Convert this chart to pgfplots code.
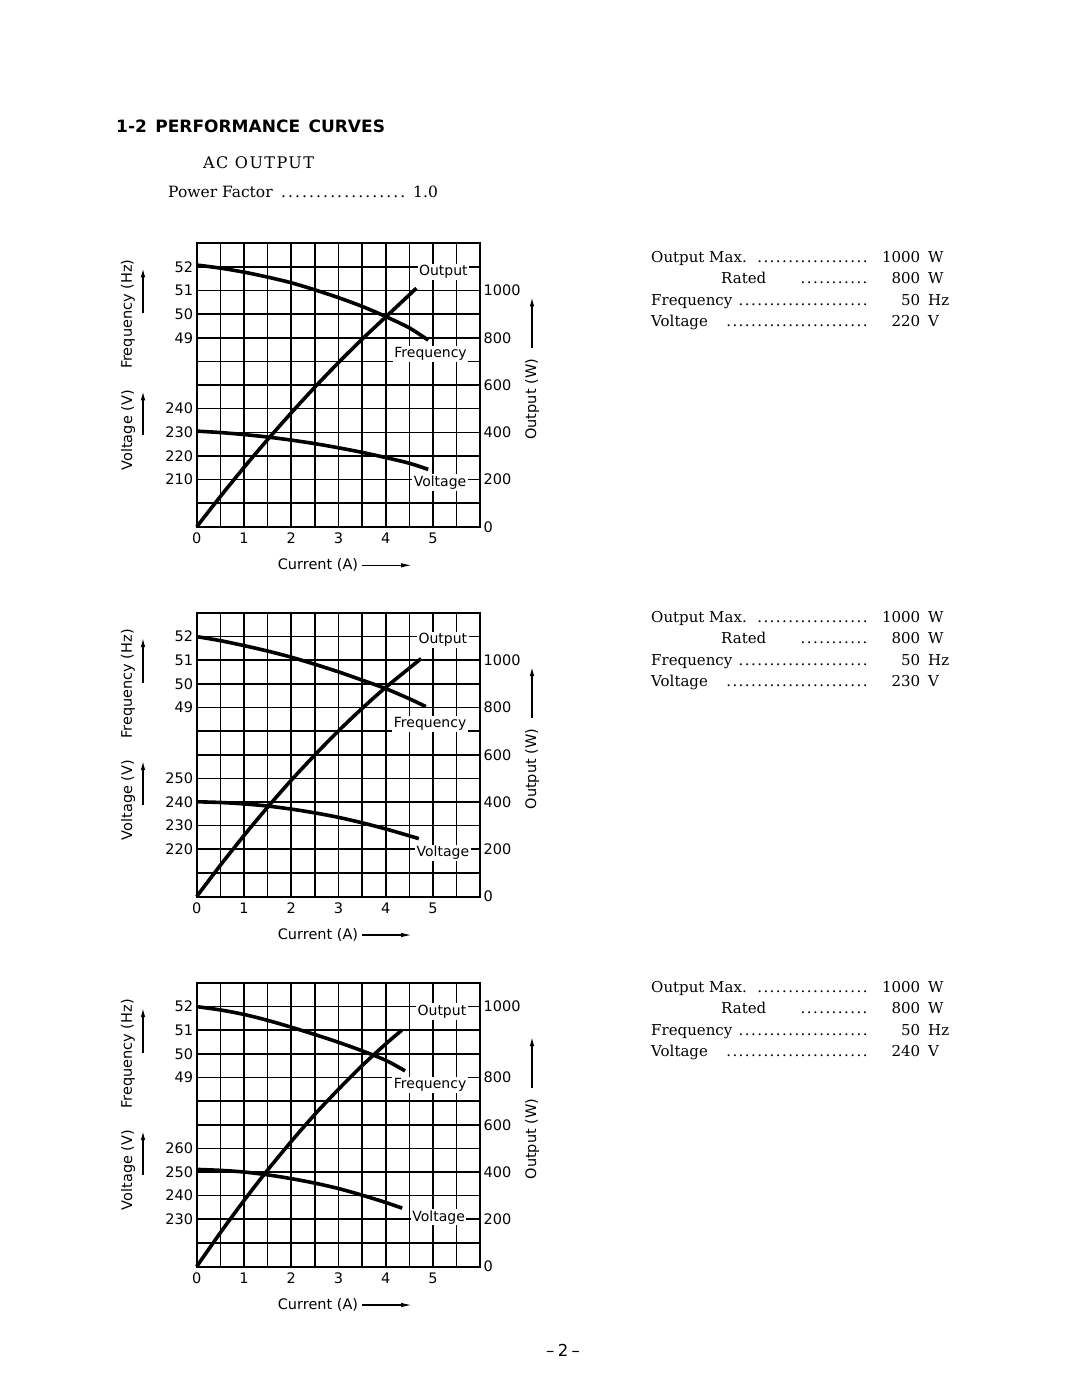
\documentclass[border=0pt]{standalone}
\usepackage{pgfplots}
\pgfplotsset{compat=1.18}
\usepackage{fontspec}
\setmainfont{DejaVu Sans}
\newfontfamily\book{DejaVu Serif}
\newfontfamily\bookwide[LetterSpace=9]{DejaVu Serif}
\usetikzlibrary{arrows.meta}

% dot leaders with a given pitch
\newcommand{\lead}[1]{\leaders\hbox to #1{\hss.\hss}\hfill}

\pgfplotsset{
  panel/.style={
    scale only axis, width=283.5pt, height=283.5pt,
    anchor=north west, xmin=0, xmax=6, clip=false,
    major tick length=0pt, minor tick length=0pt,
    tick label style={font=\fontsize{14.5}{15}\selectfont},
    xticklabel style={anchor=base, yshift=-17pt},
    /pgf/number format/assume math mode=true,
    /pgf/number format/1000 sep={},
  },
  gridpanel/.style={panel,
    ymin=0, ymax=1200,
    xtick={0,...,5},
    minor xtick={0,0.5,...,6},
    minor ytick={0,100,...,1200},
    grid=both,
    major grid style={black, line width=1.6pt},
    minor grid style={black, line width=1.6pt},
    axis line style={line width=2pt},
    yticklabel pos=right,
  },
  sidepanel/.style={panel, xtick=\empty,
    axis line style={draw=none}, yticklabel pos=left},
  curve/.style={black, line width=3.6pt, smooth},
}
\tikzset{tag/.style={fill=white, inner sep=1.5pt, font=\fontsize{14}{14}\selectfont}}

% axis titles and arrows around a grid whose top edge is at #1
\newcommand{\decor}[1]{%
  \begin{scope}[yshift=-#1pt, every node/.style={font=\fontsize{14.5}{15}\selectfont}]
    \node[rotate=90] at (128pt,-71pt) {Frequency (Hz)};
    \draw[line width=1.3pt,-{Latex[length=9pt,width=4.5pt]}] (143pt,-70pt) -- (143pt,-25pt);
    \node[rotate=90] at (128pt,-187pt) {Voltage (V)};
    \draw[line width=1.3pt,-{Latex[length=9pt,width=4.5pt]}] (143pt,-192pt) -- (143pt,-148pt);
    \node[rotate=90] at (532pt,-156pt) {Output (W)};
    \draw[line width=1.3pt,-{Latex[length=9pt,width=4.5pt]}] (532pt,-105pt) -- (532pt,-54pt);
    \node at (318pt,-322pt) {Current (A)};
    \draw[line width=1.3pt,-{Latex[length=11pt,width=4.5pt]}] (362pt,-322pt) -- (412pt,-322pt);
  \end{scope}}

% rating block, first baseline at #1, voltage #2
\newcommand{\specs}[2]{%
  \begin{scope}[yshift=-#1pt, every node/.style={anchor=base west, inner sep=0pt, font=\book\fontsize{15}{15}\selectfont}]
    \node at (651pt,0pt) {\hbox to 217pt{Output Max.\ \lead{6.2pt}}\makebox[52pt][r]{1000}\hspace{8pt}W};
    \node at (651pt,-21.5pt) {\hbox to 217pt{\hspace{70pt}Rated\hspace{28pt}\lead{6.2pt}}\makebox[52pt][r]{800}\hspace{8pt}W};
    \node at (651pt,-43pt) {\hbox to 217pt{Frequency\ \lead{6.2pt}}\makebox[52pt][r]{50}\hspace{8pt}Hz};
    \node at (651pt,-64.5pt) {\hbox to 217pt{Voltage\hspace{14pt}\lead{6.2pt}}\makebox[52pt][r]{#2}\hspace{8pt}V};
  \end{scope}}

\begin{document}
\begin{tikzpicture}
\path[use as bounding box] (0pt,0pt) rectangle (1080pt,-1399pt);

\node[anchor=base west, inner sep=0pt, font=\bfseries\fontsize{17}{17}\selectfont]
  at (116pt,-133pt) {1-2\hspace{0.5em}PERFORMANCE\hspace{0.5em}CURVES};
\node[anchor=base west, inner sep=0pt, font=\bookwide\fontsize{16}{16}\selectfont]
  at (203pt,-169pt) {AC OUTPUT};
\node[anchor=base west, inner sep=0pt, font=\book\fontsize{15.5}{16}\selectfont]
  at (168pt,-197.5pt) {\hbox to 240pt{Power Factor\ \lead{7pt}}\hspace{5pt}1.0};

% ---------------- 220 V ----------------
\begin{axis}[gridpanel, at={(196.7pt,-243.3pt)}, ytick={0,200,...,1000}]
  \addplot[curve] coordinates {(0,0) (0.5,128) (1,251) (1.5,369) (2,482) (2.5,591) (3,695) (3.5,794) (4,888) (4.65,1010)};
  \node[tag] at (axis cs:5.22,1078) {Output};
  \node[tag] at (axis cs:4.95,732) {Frequency};
  \node[tag] at (axis cs:5.15,188) {Voltage};
\end{axis}
\begin{axis}[sidepanel, at={(196.7pt,-243.3pt)}, ymin=41, ymax=53, ytick={49,...,52}]
  \addplot[curve] coordinates {(0,52.08) (0.5,51.95) (1,51.78) (1.5,51.57) (2,51.33) (2.5,51.03) (3,50.7) (3.5,50.33) (4,49.9) (4.5,49.42) (4.9,48.9)};
\end{axis}
\begin{axis}[sidepanel, at={(196.7pt,-243.3pt)}, ymin=190, ymax=310, ytick={210,220,230,240}]
  \addplot[curve] coordinates {(0,230.5) (0.5,229.9) (1,229.05) (1.5,228.0) (2,226.7) (2.5,225.2) (3,223.45) (3.5,221.5) (4,219.3) (4.5,216.9) (4.9,214.3)};
\end{axis}
\decor{243.3}
\specs{262}{220}

% ---------------- 230 V ----------------
\begin{axis}[gridpanel, at={(196.7pt,-613pt)}, ytick={0,200,...,1000}]
  \addplot[curve] coordinates {(0,0) (0.5,132) (1,258) (1.5,378) (2,492) (2.5,599) (3,701) (3.5,796) (4,885) (4.75,1007)};
  \node[tag] at (axis cs:5.21,1085) {Output};
  \node[tag] at (axis cs:4.94,730) {Frequency};
  \node[tag] at (axis cs:5.21,184) {Voltage};
\end{axis}
\begin{axis}[sidepanel, at={(196.7pt,-613pt)}, ymin=41, ymax=53, ytick={49,...,52}]
  \addplot[curve] coordinates {(0,52.0) (0.5,51.83) (1,51.62) (1.5,51.39) (2,51.13) (2.5,50.83) (3,50.51) (3.5,50.16) (4,49.8) (4.5,49.37) (4.85,49.04)};
\end{axis}
\begin{axis}[sidepanel, at={(196.7pt,-613pt)}, ymin=200, ymax=320, ytick={220,230,240,250}]
  \addplot[curve] coordinates {(0,240.1) (0.5,239.8) (1,239.2) (1.5,238.3) (2,237.0) (2.5,235.4) (3,233.5) (3.5,231.2) (4,228.6) (4.5,225.7) (4.7,224.5)};
\end{axis}
\decor{613}
\specs{622}{230}

% ---------------- 240 V ----------------
\begin{axis}[gridpanel, at={(196.7pt,-983pt)}, ytick={0,200,400,600,800,1100}, yticklabels={0,200,400,600,800,1000}]
  \addplot[curve] coordinates {(0,0) (0.5,143) (1,279) (1.5,408) (2,529) (2.5,644) (3,750) (3.5,850) (4,942) (4.34,1000)};
  \node[tag] at (axis cs:5.19,1080) {Output};
  \node[tag] at (axis cs:4.94,770) {Frequency};
  \node[tag] at (axis cs:5.12,209) {Voltage};
\end{axis}
\begin{axis}[sidepanel, at={(196.7pt,-983pt)}, ymin=41, ymax=53, ytick={49,...,52}]
  \addplot[curve] coordinates {(0,52.0) (0.5,51.86) (1,51.67) (1.5,51.42) (2,51.13) (2.5,50.82) (3,50.49) (3.5,50.13) (4,49.73) (4.41,49.28)};
\end{axis}
\begin{axis}[sidepanel, at={(196.7pt,-983pt)}, ymin=210, ymax=330, ytick={230,240,250,260}]
  \addplot[curve] coordinates {(0,251.1) (0.5,250.7) (1,250.0) (1.5,248.8) (2,247.2) (2.5,245.3) (3,243.0) (3.5,240.2) (4,237.1) (4.35,234.7)};
\end{axis}
\decor{983}
\specs{992}{240}

\node[font=\fontsize{16.5}{17}\selectfont] at (563pt,-1350pt) {--\hspace{3.5pt}2\hspace{3.5pt}--};
\end{tikzpicture}
\end{document}
